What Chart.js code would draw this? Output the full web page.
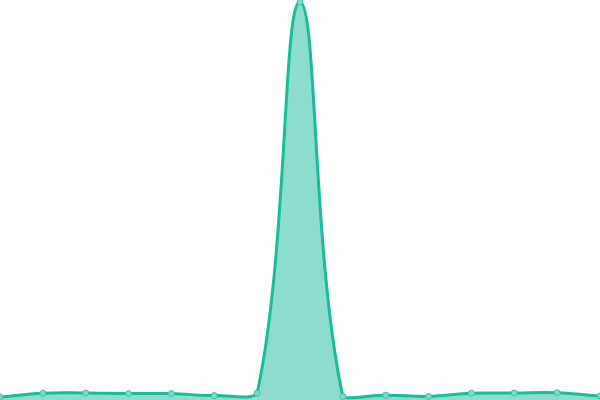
<!DOCTYPE html>
<html><head><meta charset="utf-8">
<script src="https://cdn.jsdelivr.net/npm/chart.js@4"></script>
<style>html,body{margin:0;padding:0;background:#fff}#w{width:600px;height:400px}</style>
</head><body><div id="w"><canvas id="c"></canvas></div>
<script>
const labels = ["1","2","3","4","5","6","7","8","9","10","11","12","13","14","15"];
const values = [0.75,1.7,1.75,1.6,1.6,1.1,1.7,99.5,0.9,1.2,0.9,1.7,1.75,1.8,1.0];
new Chart(document.getElementById('c'), {
  type: 'line',
  data: { labels: labels, datasets: [{
    data: values,
    borderColor: 'rgb(26,188,156)',
    backgroundColor: 'rgba(26,188,156,0.5)',
    fill: true,
    borderWidth: 3,
    tension: 0.4,
    pointRadius: 3,
    pointBackgroundColor: '#7fd8c5',
    pointBorderColor: 'rgb(60,196,168)',
    pointBorderWidth: 1
  }]},
  options: {
    responsive: true, maintainAspectRatio: false, animation: false,
    layout: { padding: 0, autoPadding: false },
    plugins: { legend: { display: false }, tooltip: { enabled: false } },
    scales: {
      x: { display: false, offset: false },
      y: { display: false, min: 0, max: 100 }
    }
  }
});
</script></body></html>
